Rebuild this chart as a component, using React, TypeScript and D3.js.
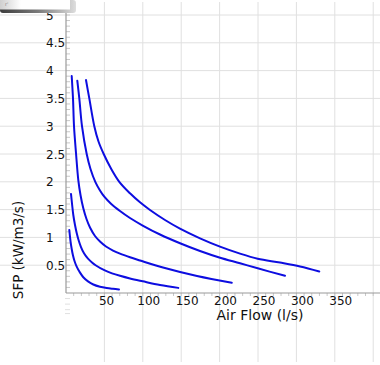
import React from "react";
import * as d3 from "d3";

// ---- data ----
const xTickValues = [50, 100, 150, 200, 250, 300, 350];
const yTickValues = [0.5, 1, 1.5, 2, 2.5, 3, 3.5, 4, 4.5, 5];
const xTickLabels = ["50", "100", "150", "200", "250", "300", "350"];
const yTickLabels = ["0.5", "1", "1.5", "2", "2.5", "3", "3.5", "4", "4.5", "5"];

const curve1X = [4.3, 5.86, 7.42, 9.11, 11.07, 13.93, 17.58, 22.53, 28.65, 35.55, 44.27, 52.99, 61.2, 69.01];
const curve1Y = [1.133, 0.935, 0.791, 0.674, 0.576, 0.473, 0.381, 0.284, 0.21, 0.153, 0.113, 0.09, 0.076, 0.065];

const curve2X = [6.51, 7.81, 9.51, 11.72, 13.93, 16.54, 19.53, 23.44, 28.65, 33.85, 39.06, 49.87, 59.9, 70.31, 83.33, 99.87, 122.4, 146.2];
const curve2Y = [1.781, 1.61, 1.403, 1.223, 1.079, 0.944, 0.827, 0.714, 0.617, 0.549, 0.495, 0.41, 0.354, 0.309, 0.261, 0.21, 0.144, 0.092];

const curve3X = [7.42, 9.11, 10.42, 13.02, 16.02, 18.88, 22.53, 26.69, 31.25, 37.76, 44.27, 52.08, 61.2, 70.31, 83.33, 96.35, 126.3, 170.6, 215.9];
const curve3Y = [3.903, 3.5, 3.004, 2.518, 2.032, 1.763, 1.523, 1.331, 1.178, 1.025, 0.926, 0.836, 0.764, 0.707, 0.642, 0.585, 0.459, 0.306, 0.185];

const curve4X = [14.71, 17.32, 20.83, 26.95, 31.9, 38.15, 44.27, 49.87, 58.59, 70.31, 83.33, 99.87, 122.4, 149.3, 174.5, 199.6, 226.6, 249.6, 285.2];
const curve4Y = [3.818, 3.5, 3.0, 2.5, 2.23, 2.0, 1.844, 1.732, 1.606, 1.475, 1.349, 1.214, 1.052, 0.89, 0.755, 0.638, 0.534, 0.444, 0.309];

const curve5X = [26.04, 30.34, 36.85, 42.32, 49.09, 58.59, 69.4, 83.33, 96.35, 109.4, 128.9, 148.4, 174.5, 200.5, 226.6, 249.6, 278.6, 304.7, 329.8];
const curve5Y = [3.831, 3.5, 3.0, 2.725, 2.5, 2.239, 2.0, 1.793, 1.631, 1.493, 1.313, 1.158, 0.984, 0.835, 0.709, 0.617, 0.547, 0.477, 0.387];

const seriesX = [curve1X, curve2X, curve3X, curve4X, curve5X];
const seriesY = [curve1Y, curve2Y, curve3Y, curve4Y, curve5Y];

const W = 380;
const H = 365;
const FONT = "DejaVu Sans, sans-serif";

export default function App() {
  const x = d3.scaleLinear().domain([0, 400]).range([66, 373.2]);
  const y = d3.scaleLinear().domain([0, 5]).range([293, 15]);

  const line = d3
    .line<[number, number]>()
    .x((d) => x(d[0]))
    .y((d) => y(d[1]))
    .curve(d3.curveCatmullRom.alpha(0.5));

  const xMinor = d3.range(10, 401, 10);
  const yMinor = d3.range(1, 53).map((i) => i / 10);
  const yGhost = [-0.1, -0.2, -0.3, -0.37];
  const xGrid = d3.range(50, 401, 50);

  return (
    <svg
      width={W}
      height={H}
      style={{ position: "absolute", left: 0, top: 0, background: "#fff" }}
      fontFamily={FONT}
    >
      <defs>
        <linearGradient id="shadowG" x1="0" y1="0" x2="1" y2="0">
          <stop offset="0" stopColor="#3c3c3c" />
          <stop offset="0.5" stopColor="#7a7a7a" />
          <stop offset="1" stopColor="#dedede" />
        </linearGradient>
        <linearGradient id="panelG" x1="0" y1="0" x2="1" y2="0">
          <stop offset="0" stopColor="#cfcfcf" />
          <stop offset="0.3" stopColor="#ffffff" />
          <stop offset="1" stopColor="#ffffff" />
        </linearGradient>
      </defs>
      <rect x={0} y={0} width={W} height={H} fill="#fff" />

      {/* grid */}
      {yTickValues.map((v) => (
        <line key={"hg" + v} x1={0} x2={W} y1={y(v)} y2={y(v)} stroke="#e0e0e0" strokeWidth={1} />
      ))}
      {xGrid.map((v) => (
        <line key={"vg" + v} x1={x(v)} x2={x(v)} y1={2} y2={362} stroke="#e0e0e0" strokeWidth={1} />
      ))}

      {/* minor ticks */}
      {yMinor.map((v) => (
        <line key={"ym" + v} x1={x(0)} x2={x(0) + 4} y1={y(v)} y2={y(v)} stroke="#c8c8c8" strokeWidth={1} />
      ))}
      {yGhost.map((v) => (
        <line key={"yg" + v} x1={x(0) - 1} x2={x(0) + 4} y1={y(v)} y2={y(v)} stroke="#e0e0e0" strokeWidth={1} />
      ))}
      {xMinor.map((v) => (
        <line key={"xm" + v} x1={x(v)} x2={x(v)} y1={y(0)} y2={y(0) + 3} stroke="#c8c8c8" strokeWidth={1} />
      ))}

      {/* axes */}
      <line x1={x(0)} x2={x(0)} y1={0} y2={y(0)} stroke="#9a9a9a" strokeWidth={1.2} />
      <line x1={x(0)} x2={W} y1={y(0)} y2={y(0)} stroke="#9a9a9a" strokeWidth={1.2} />

      {/* curves */}
      {seriesX.map((xs, i) => {
        const pts = xs.map((xv, j) => [xv, seriesY[i][j]] as [number, number]);
        return (
          <path key={"c" + i} d={line(pts) || ""} fill="none" stroke="#0d0de0" strokeWidth={2} strokeLinecap="round" />
        );
      })}

      {/* tick labels */}
      {yTickValues.map((v, i) => (
        <text key={"yl" + v} x={46} y={y(v) + 4.5} fontSize={12} fill="#111">
          {yTickLabels[i]}
        </text>
      ))}
      {xTickValues.map((v, i) => (
        <text key={"xl" + v} x={x(v) - 5.5} y={305} fontSize={12} fill="#111">
          {xTickLabels[i]}
        </text>
      ))}

      {/* titles */}
      <text x={260} y={319.5} fontSize={14} textAnchor="middle" fill="#111">
        Air Flow (l/s)
      </text>
      <text
        transform="translate(23,250) rotate(-90)"
        fontSize={13.5}
        textAnchor="middle"
        fill="#111"
      >
        SFP (kW/m3/s)
      </text>

      {/* top-left artifact */}
      <rect x={0} y={0} width={76} height={13} rx={3} fill="url(#shadowG)" />
      <rect x={0} y={0} width={70} height={9.5} fill="url(#panelG)" />
      <text x={5} y={6} fontSize={5} fill="#888">r'</text>
    </svg>
  );
}
